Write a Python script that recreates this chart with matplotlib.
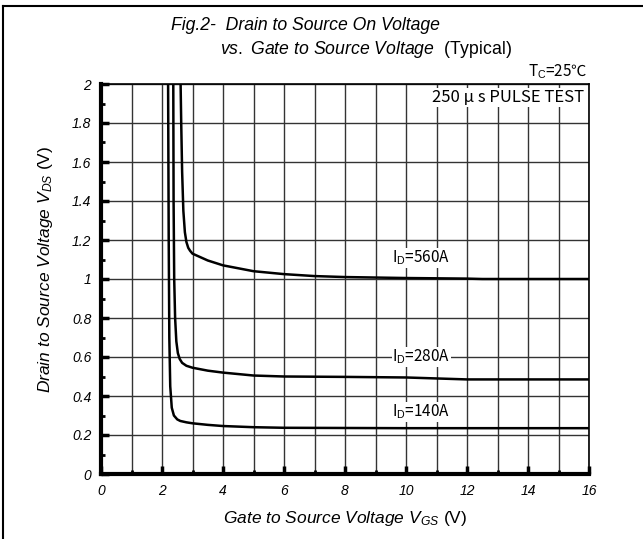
import numpy as np
import matplotlib
matplotlib.use("Agg")
import matplotlib.pyplot as plt
from matplotlib.lines import Line2D

plt.rcParams['font.family'] = ['Liberation Sans', 'DejaVu Sans']
plt.rcParams['mathtext.fontset'] = 'custom'
plt.rcParams['mathtext.rm'] = 'Liberation Sans'
plt.rcParams['mathtext.it'] = 'Liberation Sans:italic'

# VGS (V) vs VDS (V)
vgs_140 = [2.20, 2.22, 2.24, 2.27, 2.32, 2.39, 2.50, 2.60, 2.80, 3.0, 3.5, 4.0, 5.0, 6.0, 8.0, 10.0, 12.0, 14.0, 16.0]
vds_140 = [2.00, 1.20, 0.70, 0.45, 0.34, 0.30, 0.28, 0.272, 0.265, 0.260, 0.252, 0.246, 0.240, 0.237, 0.236, 0.235, 0.235, 0.235, 0.235]

vgs_280 = [2.37, 2.38, 2.40, 2.43, 2.47, 2.52, 2.58, 2.66, 2.80, 3.0, 3.5, 4.0, 5.0, 6.0, 8.0, 10.0, 11.0, 12.0, 14.0, 16.0]
vds_280 = [2.00, 1.40, 1.00, 0.80, 0.68, 0.62, 0.59, 0.57, 0.555, 0.545, 0.530, 0.520, 0.505, 0.500, 0.498, 0.495, 0.49, 0.485, 0.485, 0.485]

vgs_560 = [2.61, 2.63, 2.66, 2.70, 2.75, 2.80, 2.86, 2.92, 3.0, 3.5, 4.0, 5.0, 6.0, 7.0, 8.0, 10.0, 12.0, 12.5, 14.0, 16.0]
vds_560 = [2.00, 1.80, 1.55, 1.35, 1.24, 1.19, 1.16, 1.145, 1.13, 1.095, 1.07, 1.04, 1.025, 1.015, 1.01, 1.005, 1.002, 1.0, 1.0, 1.0]

curve_labels = ['=140A', '=280A', '=560A']
label_y = [0.318, 0.60, 1.107]
label_x = 10.5

x_ticks = list(range(0, 17, 2))
y_ticks = [0, 0.2, 0.4, 0.6, 0.8, 1.0, 1.2, 1.4, 1.6, 1.8, 2.0]
y_tick_labels = ['0', '0.2', '0.4', '0.6', '0.8', '1', '1.2', '1.4', '1.6', '1.8', '2']

cjk = ['Noto Sans CJK JP', 'DejaVu Sans']

fig = plt.figure(figsize=(6.43, 5.39), dpi=100)
ax = fig.add_axes([101/643, 65/539, 488/643, 390/539])

for xs, ys in [(vgs_140, vds_140), (vgs_280, vds_280), (vgs_560, vds_560)]:
    ax.plot(xs, ys, color='black', lw=1.8, zorder=3)
for txt, ly in zip(curve_labels, label_y):
    ax.text(label_x, ly, r'I$_{\mathrm{D}}$' + txt, ha='center', va='center', fontsize=11,
            family=cjk, bbox=dict(facecolor='white', edgecolor='none', pad=0.5), zorder=4)

ax.set_xlim(0, 16)
ax.set_ylim(0, 2)
ax.set_xticks(x_ticks, [str(v) for v in x_ticks])
ax.set_xticks(range(0, 17), minor=True)
ax.set_yticks(y_ticks, y_tick_labels)
ax.set_yticks(np.arange(0, 2.01, 0.1), minor=True)
ax.grid(True, which='major', axis='y', color='#333333', lw=1.0)
ax.grid(True, which='both', axis='x', color='#333333', lw=1.0)
ax.tick_params(which='major', direction='in', length=6, width=2.5, labelsize=10, pad=7)
ax.tick_params(which='minor', direction='in', length=3, width=2.0)
for lab in ax.get_xticklabels() + ax.get_yticklabels():
    lab.set_fontstyle('italic')
ax.spines['left'].set_linewidth(3)
ax.spines['bottom'].set_linewidth(3)
ax.spines['top'].set_linewidth(1.2)
ax.spines['right'].set_linewidth(1.2)

ax.set_xlabel(r'$\it{Gate\ to\ Source\ Voltage\ V}$$_{\it{GS}}$ (V)', fontsize=12.5, labelpad=8)
ax.set_ylabel(r'$\it{Drain\ to\ Source\ Voltage\ V}$$_{\it{DS}}$ (V)', fontsize=12.5)
ax.yaxis.set_label_coords(-0.095, 0.526)

fig.text(171/643, 1 - 26/539, 'Fig.2-  Drain to Source On Voltage', style='italic', fontsize=12.7,
         ha='left', va='center')
fig.text(220/643, 1 - 50/539, r'$\it{vs.\ Gate\ to\ Source\ Voltage}$  (Typical)', fontsize=12.7,
         ha='left', va='center')
fig.text(588/643, 1 - 72/539, 'T$_{\\mathrm{C}}$=25℃', fontsize=11, ha='right', va='center',
         family=cjk)
ax.text(15.85, 1.975, '250 μ s PULSE TEST', fontsize=12, ha='right', va='top',
        family=cjk, bbox=dict(facecolor='white', edgecolor='none', pad=1.0), zorder=4)

# outer frame (left and top edges)
fig.add_artist(Line2D([3/643, 3/643], [0, 1 - 6/539], color='black', lw=1.5))
fig.add_artist(Line2D([3/643, 1], [1 - 6/539, 1 - 6/539], color='black', lw=1.5))

fig.savefig('out.png', dpi=100)
